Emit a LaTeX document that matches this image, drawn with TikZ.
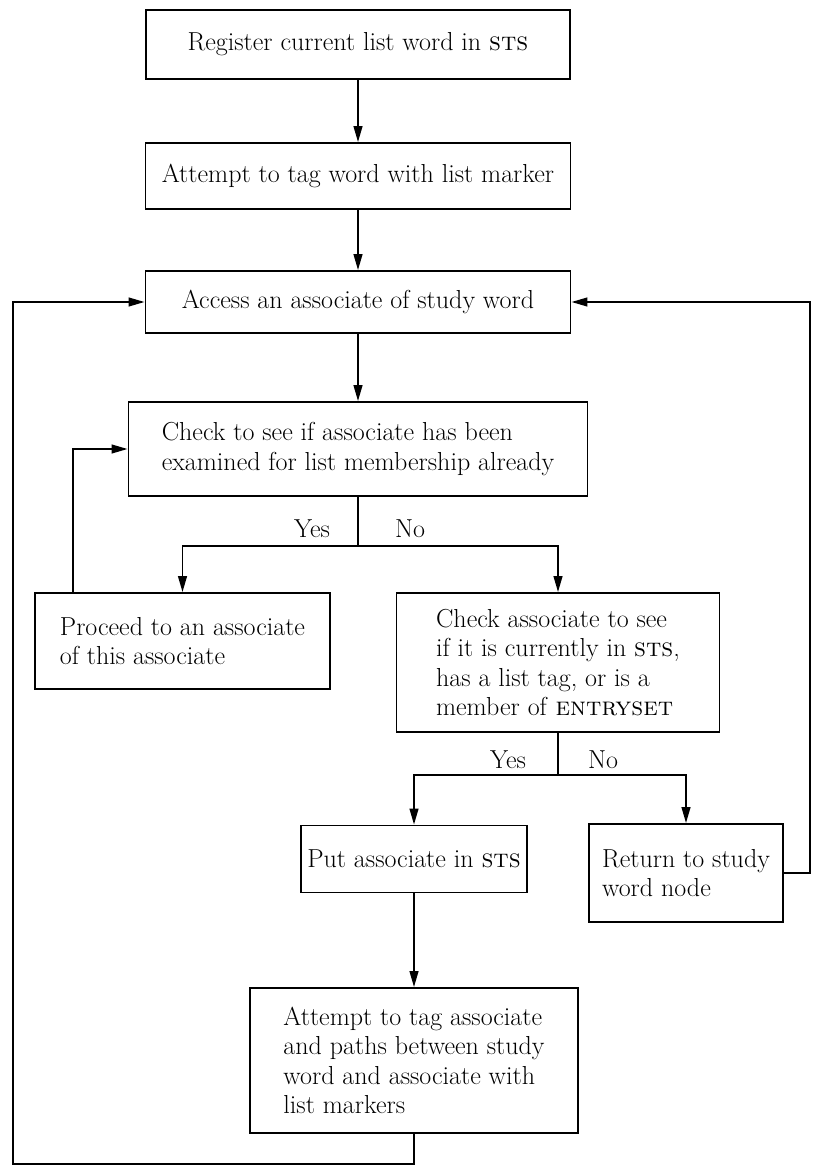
\documentclass[tikz,border=0pt]{standalone}
\usetikzlibrary{arrows.meta}
\begin{document}
\begin{tikzpicture}[x=0.025cm,y=-0.025cm,
  stage/.style={draw, line width=1.3pt, inner sep=2pt, font=\fontsize{18.5}{20.8}\selectfont},
  flow/.style={line width=1.3pt, -{Triangle[length=0.4cm,width=0.22cm]}},
  answer/.style={font=\fontsize{18.5}{20.8}\selectfont}]
\useasboundingbox (0,0) rectangle (813,1168);

\node[stage, align=center, minimum width=10.6cm, minimum height=1.725cm] (register) at (358,44.5) {Register current list word in \textsc{sts}};
\node[stage, align=center, minimum width=10.625cm, minimum height=1.65cm] (tagword) at (358,176) {Attempt to tag word with list marker};
\node[stage, align=center, minimum width=10.625cm, minimum height=1.55cm] (access) at (358,302) {Access an associate of study word};
\node[stage, align=left, minimum width=11.475cm, minimum height=2.35cm] (examined) at (358,449) {Check to see if associate has been\\examined for list membership already};
\node[stage, align=left, minimum width=7.375cm, minimum height=2.4cm] (proceed) at (182.5,641) {Proceed to an associate\\of this associate};
\node[stage, align=left, minimum width=8.075cm, minimum height=3.475cm] (member) at (558,662.5) {Check associate to see\\if it is currently in \textsc{sts},\\has a list tag, or is a\\member of \textsc{entryset}};
\node[stage, align=center, minimum width=5.65cm, minimum height=1.675cm] (putsts) at (414,859) {Put associate in \textsc{sts}};
\node[stage, align=left, minimum width=4.85cm, minimum height=2.45cm] (return) at (686,873) {Return to study\\word node};
\node[stage, align=left, minimum width=8.2cm, minimum height=3.625cm] (tagpaths) at (414,1060.5) {Attempt to tag associate\\and paths between study\\word and associate with\\list markers};

\node[answer] (yes1) at (312,529) {Yes};
\node[answer] (no1) at (410,529) {No};
\node[answer] (yes2) at (508,760) {Yes};
\node[answer] (no2) at (603,760) {No};

\coordinate (split1) at (358,545.7);
\coordinate (split2) at (558,775);
\coordinate (bottomleft) at (13,1164);
\coordinate (rightedge) at (810,873);

\draw[flow] (register) -- (tagword);
\draw[flow] (tagword) -- (access);
\draw[flow] (access) -- (examined);
\draw[line width=1.3pt] (examined.south) -- (split1);
\draw[flow] (split1) -| (proceed.north);
\draw[flow] (split1) -| (member.north);
\draw[flow] ([xshift=0.975cm]proceed.north west) |- (examined.west);
\draw[line width=1.3pt] (member.south) -- (split2);
\draw[flow] (split2) -| (putsts.north);
\draw[flow] (split2) -| (return.north);
\draw[flow] (putsts) -- (tagpaths);
\draw[flow] (tagpaths.south) |- (bottomleft) |- (access.west);
\draw[flow] (return.east) -- (rightedge) |- (access.east);
\end{tikzpicture}
\end{document}
